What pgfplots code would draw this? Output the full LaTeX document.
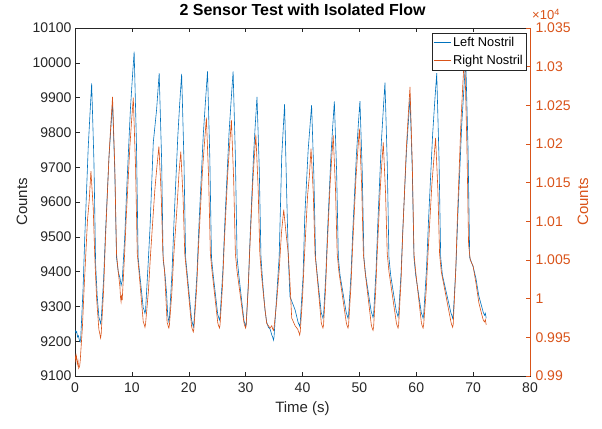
\documentclass[border=0pt]{standalone}
\usepackage{fontspec}
\setmainfont{Liberation Sans}
\usepackage{pgfplots}
\usepackage{pgfplotstable}
\pgfplotsset{compat=1.18}
\definecolor{mblue}{HTML}{0072BD}
\definecolor{morange}{HTML}{D95319}
\definecolor{maxis}{HTML}{262626}

% left nostril, left axis (counts)
\pgfplotstableread{
t L
0.0 9232
0.15 9224
0.3 9228
0.45 9212
0.6 9216
0.75 9204
0.9 9198
1.0 9207
1.41 9347
1.71 9495
2.32 9755
2.63 9852
2.93 9941
3.33 9715
3.63 9420
3.9 9330
4.2 9270
4.3 9263
4.4 9258
4.5 9251
4.6 9259
5.03 9378
5.34 9505
5.97 9727
6.29 9809
6.6 9885
7.0 9685
7.3 9440
7.6 9400
7.9 9382
8.0 9372
8.1 9360
8.2 9367
8.3 9374
8.75 9500
9.08 9633
9.74 9866
10.07 9952
10.4 10032
10.8 9772
11.1 9440
11.4 9390
12.0 9295
12.1 9292
12.2 9287
12.3 9280
12.4 9287
12.9 9434
13.2 9530
13.76 9770
14.35 9866
14.8 9970
15.23 9722
15.5 9434
15.8 9396
16.1 9338
16.3 9275
16.4 9266
16.5 9256
16.6 9265
17.06 9398
17.4 9541
18.08 9790
18.41 9883
18.75 9968
19.15 9725
19.45 9440
19.75 9390
20.5 9262
20.6 9255
20.7 9249
20.8 9241
20.9 9250
21.43 9388
21.8 9535
22.55 9792
22.93 9887
23.3 9975
23.7 9729
24.0 9440
24.3 9390
25.1 9276
25.2 9272
25.3 9266
25.4 9261
25.5 9269
26.0 9404
26.36 9547
27.08 9797
27.44 9889
27.8 9975
28.2 9729
28.5 9440
28.8 9390
29.7 9260
29.8 9254
29.9 9250
30.0 9241
30.1 9250
30.5 9373
30.8 9505
31.4 9737
31.7 9823
32.0 9902
32.4 9694
32.7 9440
33.0 9370
33.4 9290
33.7 9255
34.0 9240
34.3 9235
34.6 9218
34.75 9212
34.9 9203
35.0 9213
35.45 9328
35.9 9443
36.35 9732
36.85 9881
37.2 9636
37.5 9443
37.8 9328
38.7 9290
39.2 9256
39.3 9251
39.4 9248
39.5 9243
39.6 9252
40.1 9386
40.4 9559
41.0 9751
41.6 9878
42.0 9675
42.3 9440
42.6 9390
43.3 9281
43.4 9277
43.5 9272
43.6 9266
43.7 9274
44.1 9391
44.4 9515
45.0 9733
45.3 9814
45.6 9889
46.0 9687
46.3 9440
46.6 9390
47.7 9281
47.8 9277
47.9 9272
48.0 9266
48.1 9274
48.53 9391
48.84 9516
49.47 9733
49.79 9816
50.1 9890
50.5 9688
50.8 9440
51.1 9390
52.1 9283
52.2 9279
52.3 9274
52.4 9268
52.5 9276
52.93 9403
53.24 9538
53.87 9774
54.19 9862
54.5 9943
54.9 9712
55.2 9440
55.5 9390
56.5 9285
56.6 9281
56.7 9276
56.8 9270
56.9 9278
57.33 9396
57.64 9522
58.27 9743
58.59 9824
58.9 9900
59.3 9693
59.6 9440
59.9 9390
60.9 9281
61.0 9277
61.1 9272
61.2 9266
61.3 9274
61.8 9407
62.16 9548
62.88 9794
63.24 9886
63.6 9970
64.0 9726
64.3 9440
64.6 9390
66.1 9281
66.2 9277
66.3 9272
66.4 9266
66.5 9274
66.98 9415
67.32 9564
68.01 9827
68.36 9920
68.7 10010
69.1 9755
69.4 9440
70.0 9414
70.5 9380
71.0 9330
71.5 9300
71.8 9282
72.0 9275
72.15 9280
72.3 9266
}\leftdata

% right nostril, right axis (counts)
\pgfplotstableread{
t R
0.0 9929
0.12 9920
0.25 9926
0.4 9915
0.52 9920
0.65 9910
0.8 9912
0.9 9918
1.3 9963
1.6 10013
2.2 10102
2.5 10127
2.8 10165
3.2 10118
3.5 10050
3.8 10000
4.2 9960
4.3 9957
4.4 9953
4.5 9949
4.6 9954
5.03 10011
5.34 10074
5.97 10183
6.29 10224
6.6 10261
7.0 10170
7.3 10058
7.6 10035
7.9 10015
8.0 10002
8.1 9996
8.2 10005
8.3 9998
8.71 10056
9.02 10107
9.64 10196
9.94 10229
10.25 10260
10.65 10169
10.95 10058
11.25 10035
12.0 9970
12.1 9968
12.2 9966
12.3 9963
12.4 9967
12.91 10010
13.28 10057
14.02 10139
14.38 10169
14.75 10197
15.15 10136
15.45 10058
15.75 10035
16.2 9969
16.3 9967
16.4 9964
16.5 9962
16.6 9966
17.03 10008
17.34 10053
17.97 10122
18.29 10163
18.6 10190
19.0 10131
19.3 10058
19.6 10035
20.5 9964
20.6 9961
20.7 9959
20.8 9957
20.9 9961
21.38 10012
21.72 10068
22.41 10165
22.76 10201
23.1 10234
23.5 10155
23.8 10058
24.1 10035
25.1 9969
25.2 9966
25.3 9964
25.4 9962
25.5 9966
25.93 10016
26.24 10070
26.87 10164
27.19 10199
27.5 10231
27.9 10153
28.2 10058
28.5 10035
29.7 9969
29.8 9966
29.9 9964
30.0 9962
30.1 9966
30.45 10012
30.72 10062
31.26 10150
31.53 10183
31.8 10212
32.2 10143
32.5 10058
32.8 10030
33.2 10000
33.7 9968
34.3 9962
34.6 9965
34.75 9961
34.9 9959
35.0 9963
35.45 9995
35.9 10037
36.3 10085
36.7 10115
37.1 10085
37.5 10058
37.8 10020
38.1 9975
38.7 9965
39.2 9960
39.3 9957
39.4 9956
39.5 9953
39.6 9957
40.0 10001
40.3 10049
40.9 10134
41.2 10158
41.5 10194
41.9 10136
42.2 10058
42.5 10035
43.3 9969
43.4 9966
43.5 9964
43.6 9962
43.7 9966
44.05 10012
44.32 10062
44.86 10149
45.13 10181
45.4 10211
45.8 10142
46.1 10058
46.4 10035
47.7 9969
47.8 9966
47.9 9964
48.0 9962
48.1 9966
48.5 10014
48.8 10065
49.4 10156
49.7 10189
50.0 10220
50.4 10147
50.7 10058
51.0 10035
52.1 9966
52.2 9963
52.3 9961
52.4 9959
52.5 9963
52.85 10008
53.12 10056
53.66 10141
53.93 10173
54.2 10202
54.6 10137
54.9 10058
55.2 10035
56.5 9969
56.6 9966
56.7 9964
56.8 9962
56.9 9966
57.33 10024
57.64 10087
58.27 10196
58.59 10237
58.9 10274
59.3 10176
59.6 10058
59.9 10035
60.9 9969
61.0 9966
61.1 9964
61.2 9962
61.3 9966
61.75 10011
62.08 10060
62.74 10147
63.07 10178
63.4 10208
63.8 10141
64.1 10058
64.4 10035
66.1 9970
66.2 9967
66.3 9965
66.4 9963
66.5 9967
66.93 10034
67.24 10106
67.87 10231
68.19 10277
68.5 10320
68.9 10200
69.2 10070
69.5 10050
70.0 10042
70.5 10020
71.0 9995
71.5 9980
71.8 9972
72.0 9970
72.15 9973
72.3 9966
}\rightdata

\pgfplotsset{
  twin/.style={
    scale only axis, width=455pt, height=348pt,
    xmin=0, xmax=80,
    scaled ticks=false,
    /pgf/number format/assume math mode=true,
    /pgf/number format/1000 sep={},
    tick align=inside,
    major tick length=4.5pt,
    ticklabel style={font=\fontsize{14}{16}\selectfont},
    label style={font=\fontsize{15}{17}\selectfont},
  },
}

\begin{document}
\begin{tikzpicture}
\begin{axis}[twin, name=ax1,
  ymin=9100, ymax=10100,
  xtick={0,10,...,80}, ytick={9100,9200,...,10100},
  xtick pos=both, ytick pos=left,
  axis line style={maxis, line width=0.5pt},
  tick style={maxis, line width=0.5pt},
  ticklabel style={text=maxis},
  xticklabel style={yshift=-3pt},
  xlabel={Time (s)}, ylabel={Counts},
  xlabel style={at={(axis description cs:0.5,-0.095)}, anchor=center, text=maxis},
  ylabel style={at={(axis description cs:-0.1165,0.5)}, anchor=center, text=maxis},
  title={2 Sensor Test with Isolated Flow},
  title style={at={(axis description cs:0.5,1.034)}, anchor=center,
    font=\fontsize{16}{18}\selectfont\bfseries},
]
\addplot[mblue, line width=0.6pt] table[x=t, y=L]{\leftdata};
\end{axis}
\begin{axis}[twin, name=ax2,
  ymin=9900, ymax=10350,
  axis y line*=right, axis x line=none,
  ytick={9900,9950,...,10350},
  yticklabels={0.99,0.995,1,1.005,1.01,1.015,1.02,1.025,1.03,1.035},
  y axis line style={morange, line width=0.5pt},
  ytick style={morange, line width=0.5pt},
  yticklabel style={text=morange, xshift=2pt},
  ylabel={Counts},
  ylabel style={at={(axis description cs:1.1165,0.5)}, anchor=center, text=morange},
  legend cell align=left,
  legend style={at={(rel axis cs:1,1)}, anchor=north east, xshift=-4pt, yshift=-5pt,
    draw=maxis, fill=white, font=\fontsize{12.8}{14}\selectfont,
    inner xsep=1pt, inner ysep=2pt, row sep=3pt},
]
\addlegendimage{mblue, line width=0.6pt}
\addlegendentry{Left Nostril}
\addplot[morange, line width=0.6pt] table[x=t, y=R]{\rightdata};
\addlegendentry{Right Nostril}
\end{axis}
\node[anchor=base west, text=morange, inner sep=0pt, xshift=2pt, yshift=8pt,
  font=\fontsize{13}{14}\selectfont] at (ax2.north east) {×10\textsuperscript{4}};
\pgfresetboundingbox
\path[use as bounding box] ([xshift=-75pt,yshift=-52pt]ax1.south west)
  rectangle ([xshift=72pt,yshift=28pt]ax1.north east);
\end{tikzpicture}
\end{document}
